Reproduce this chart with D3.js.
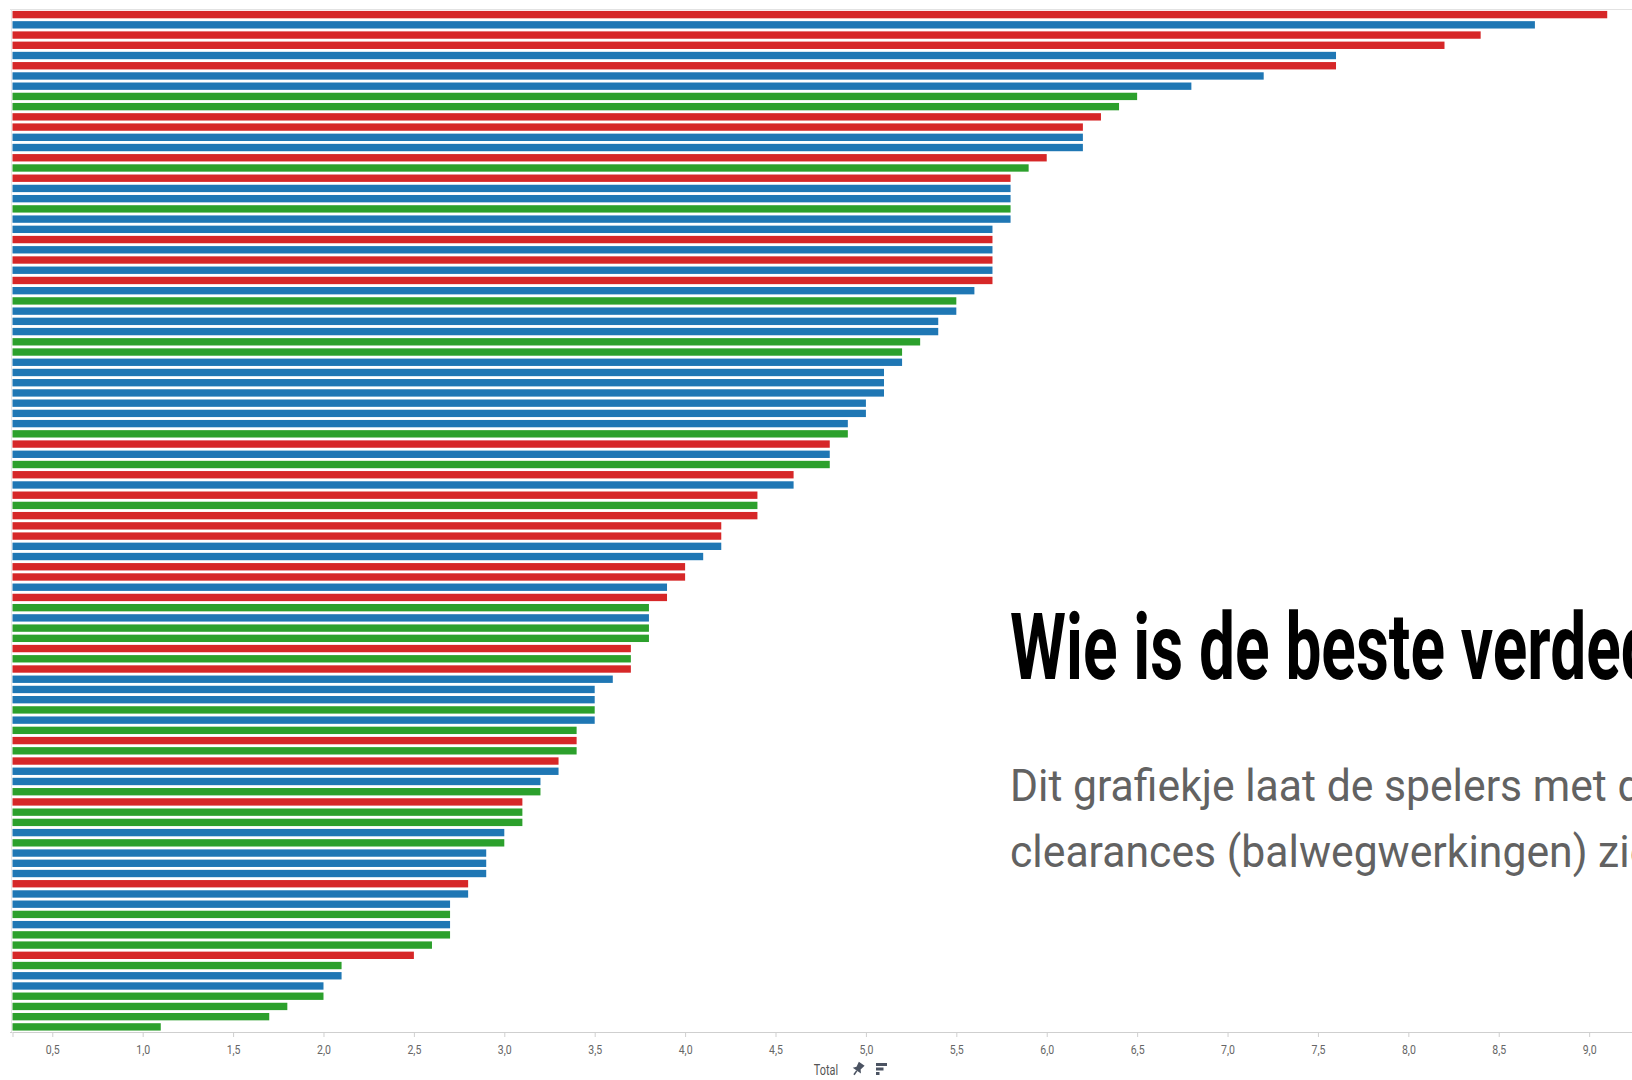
<!DOCTYPE html>
<html>
<head>
<meta charset="utf-8">
<title>Wie is de beste verdediger?</title>
<script src="https://cdn.jsdelivr.net/npm/d3@7"></script>
<style>
    html, body { margin: 0; padding: 0; background: #fff; overflow: hidden; }
    svg { display: block; }
</style>
</head>
<body>
<script>

// clearances per speler, gesorteerd van hoog naar laag
var values = [
    9.1, 8.7, 8.4, 8.2, 7.6, 7.6, 7.2, 6.8, 6.5, 6.4,
    6.3, 6.2, 6.2, 6.2, 6.0, 5.9, 5.8, 5.8, 5.8, 5.8,
    5.8, 5.7, 5.7, 5.7, 5.7, 5.7, 5.7, 5.6, 5.5, 5.5,
    5.4, 5.4, 5.3, 5.2, 5.2, 5.1, 5.1, 5.1, 5.0, 5.0,
    4.9, 4.9, 4.8, 4.8, 4.8, 4.6, 4.6, 4.4, 4.4, 4.4,
    4.2, 4.2, 4.2, 4.1, 4.0, 4.0, 3.9, 3.9, 3.8, 3.8,
    3.8, 3.8, 3.7, 3.7, 3.7, 3.6, 3.5, 3.5, 3.5, 3.5,
    3.4, 3.4, 3.4, 3.3, 3.3, 3.2, 3.2, 3.1, 3.1, 3.1,
    3.0, 3.0, 2.9, 2.9, 2.9, 2.8, 2.8, 2.7, 2.7, 2.7,
    2.7, 2.6, 2.5, 2.1, 2.1, 2.0, 2.0, 1.8, 1.7, 1.1
];

// kleurgroep per balk: r = rood, b = blauw, g = groen
var groups = [
    "r", "b", "r", "r", "b", "r", "b", "b", "g", "g",
    "r", "r", "b", "b", "r", "g", "r", "b", "b", "g",
    "b", "b", "r", "b", "r", "b", "r", "b", "g", "b",
    "b", "b", "g", "g", "b", "b", "b", "b", "b", "b",
    "b", "g", "r", "b", "g", "r", "b", "r", "g", "r",
    "r", "r", "b", "b", "r", "r", "b", "r", "g", "b",
    "g", "g", "r", "g", "r", "b", "b", "b", "g", "b",
    "g", "r", "g", "r", "b", "b", "g", "r", "g", "g",
    "b", "g", "b", "b", "b", "r", "b", "b", "g", "b",
    "g", "g", "r", "g", "b", "b", "g", "g", "g", "g"
];

var groupColors = { r: "#d62728", b: "#1f77b4", g: "#2ca02c" };

var tickValues = [0.5, 1.0, 1.5, 2.0, 2.5, 3.0, 3.5, 4.0, 4.5, 5.0, 5.5, 6.0, 6.5, 7.0, 7.5, 8.0, 8.5, 9.0];

var titleText = "Wie is de beste verdediger?";
var subtitleLines = [
    "Dit grafiekje laat de spelers met de meeste",
    "clearances (balwegwerkingen) zien."
];
var axisTitle = "Total";

var width = 1632,
    height = 1080;

// tableau-as begint niet bij nul
var axisMin = 0.28,
    axisMax = 9.237;

var narrow = "'Roboto', 'Liberation Sans', sans-serif";
var narrowSx = 0.78;

var svg = d3.select("body")
    .append("svg")
        .attr("width", width)
        .attr("height", height)
        .style("background", "#fff");

var x = d3.scaleLinear()
    .domain([axisMin, axisMax])
    .range([12.5, width]);

var y = d3.scaleBand()
    .domain(d3.range(values.length))
    .range([9.5, 1032])
    .paddingInner(0.28)
    .paddingOuter(0.14);

// kader
svg.append("line")
    .attr("x1", 10).attr("x2", width)
    .attr("y1", 9.5).attr("y2", 9.5)
    .attr("stroke", "#e2e2e2");

svg.append("line")
    .attr("x1", 11.5).attr("x2", 11.5)
    .attr("y1", 9.5).attr("y2", 1032)
    .attr("stroke", "#e6e6e6");

svg.append("g")
    .selectAll("rect")
    .data(values)
    .enter()
    .append("rect")
        .attr("x", x(axisMin))
        .attr("y", function (d, i) { return y(i); })
        .attr("width", function (d) { return x(d) - x(axisMin); })
        .attr("height", y.bandwidth())
        .attr("fill", function (d, i) { return groupColors[groups[i]]; });

var nl = d3.formatLocale({ decimal: ",", thousands: ".", grouping: [3], currency: ["€", ""] });

var axis = svg.append("g")
    .attr("transform", "translate(0,1032)")
    .call(d3.axisBottom(x)
        .tickValues(tickValues)
        .tickFormat(nl.format(".1f"))
        .tickSizeOuter(0)
        .tickSize(5)
        .tickPadding(7));

axis.select(".domain").attr("stroke", "#cfcfcf");
axis.selectAll(".tick line").attr("stroke", "#cfcfcf");
axis.selectAll(".tick text")
    .attr("fill", "#666")
    .attr("transform", "scale(" + narrowSx + ",1)")
    .style("font-family", narrow)
    .style("font-size", "13.5px");

svg.append("line")
    .attr("x1", 10).attr("x2", 12.5)
    .attr("y1", 1032.5).attr("y2", 1032.5)
    .attr("stroke", "#cfcfcf");

// as-titel met pin- en sorteericoon
svg.append("text")
    .attr("transform", "translate(826,1075) scale(" + narrowSx + ",1)")
    .attr("text-anchor", "middle")
    .attr("fill", "#555")
    .style("font-family", narrow)
    .style("font-size", "14px")
    .text(axisTitle);

svg.append("g")
    .attr("transform", "translate(858,1069) rotate(35)")
    .attr("fill", "#4b5362")
    .call(function (g) {
        g.append("path").attr("d", "M-3.5,-6.5 L3.5,-6.5 L2.5,-1 L5,2 L-5,2 L-2.5,-1 Z");
        g.append("rect").attr("x", -0.8).attr("y", 2).attr("width", 1.6).attr("height", 5);
    });

svg.append("g")
    .attr("transform", "translate(876,1063)")
    .attr("fill", "#4b5362")
    .call(function (g) {
        g.append("rect").attr("x", 0).attr("y", 0).attr("width", 11).attr("height", 3);
        g.append("rect").attr("x", 0).attr("y", 4.5).attr("width", 7.5).attr("height", 3);
        g.append("rect").attr("x", 0).attr("y", 9).attr("width", 3.5).attr("height", 3);
    });

// tekst in smalle letters: horizontaal schalen op gemeten breedte
function scaleToWidth(sample, target, family, size, weight) {
    var t = svg.append("text")
        .style("font-family", family)
        .style("font-size", size + "px")
        .style("font-weight", weight)
        .text(sample);
    var w = t.node().getComputedTextLength();
    t.remove();
    return target / w;
}

var titleFont = "'Roboto', 'Liberation Sans', sans-serif";
var titleSx = scaleToWidth("Wie is de beste", 435, titleFont, 93, 700);

svg.append("text")
    .attr("transform", "translate(1010,679) scale(" + titleSx + ",1)")
    .attr("fill", "#000")
    .style("font-family", titleFont)
    .style("font-size", "93px")
    .style("font-weight", 700)
    .text(titleText);

var subFont = "'Roboto', 'Liberation Sans', sans-serif";
var subSx = scaleToWidth("Dit grafiekje laat de spelers met", 597, subFont, 45, 400);

svg.selectAll(".subtitle")
    .data(subtitleLines)
    .enter()
    .append("text")
        .attr("class", "subtitle")
        .attr("transform", function (d, i) {
            return "translate(1010," + (801 + i * 66) + ") scale(" + subSx + ",1)";
        })
        .attr("fill", "#626262")
        .style("font-family", subFont)
        .style("font-size", "45px")
        .style("font-weight", 400)
        .text(function (d) { return d; });

</script>
</body>
</html>
